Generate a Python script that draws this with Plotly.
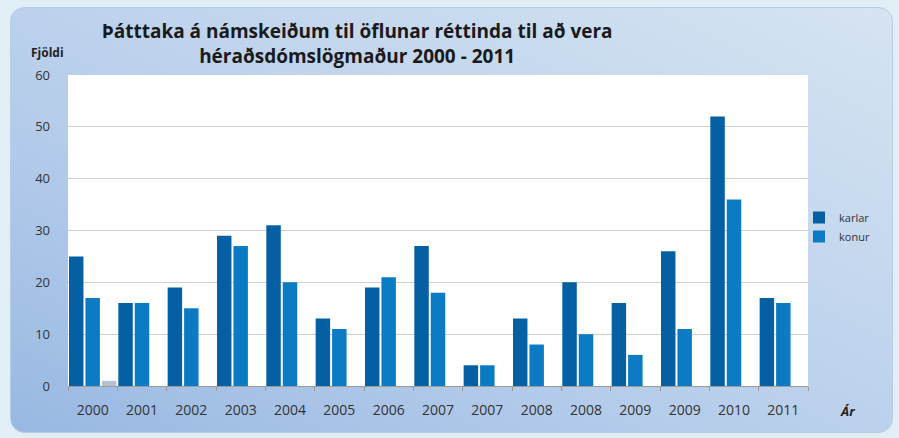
import base64
import plotly.graph_objects as go

# ---- data ----
year_labels = ["2000", "2001", "2002", "2003", "2004", "2005", "2006", "2007",
               "2007", "2008", "2008", "2009", "2009", "2010", "2011"]
karlar = [25, 16, 19, 29, 31, 13, 19, 27, 4, 13, 20, 16, 26, 52, 17]
konur = [17, 16, 15, 27, 20, 11, 21, 18, 4, 8, 10, 6, 11, 36, 16]
third = [1, 0, 0, 0, 0, 0, 0, 0, 0, 0, 0, 0, 0, 0, 0]
y_ticks = [0, 10, 20, 30, 40, 50, 60]

title_text = ("Þátttaka á námskeiðum til öflunar réttinda til að vera<br>"
              "héraðsdómslögmaður 2000 - 2011")

W, H = 899, 438
L, R, T, B = 68, 808, 75, 386  # plot area in pixels
pw, ph = R - L, B - T


def px(x):
    return (x - L) / pw


def py(y):
    return (B - y) / ph


x_pos = list(range(len(year_labels)))
boundaries = [i - 0.5 for i in range(len(year_labels) + 1)]

fig = go.Figure()
fig.add_trace(go.Bar(x=x_pos, y=karlar, name="karlar",
                     marker=dict(color="#0560a3", line=dict(width=0))))
fig.add_trace(go.Bar(x=x_pos, y=konur, name="konur",
                     marker=dict(color="#0b7bc3", line=dict(width=0))))
fig.add_trace(go.Bar(x=x_pos, y=third, name="", showlegend=False,
                     marker=dict(color="#b4c2d0", line=dict(width=0)),
                     hoverinfo="skip"))

# background panel as an svg image with gradient
svg = f'''<svg xmlns="http://www.w3.org/2000/svg" width="{W}" height="{H}" viewBox="0 0 {W} {H}">
<defs>
<linearGradient id="g" x1="0" y1="1" x2="1" y2="0">
<stop offset="0" stop-color="#98b8e2"/>
<stop offset="0.35" stop-color="#b3cbea"/>
<stop offset="1" stop-color="#d6e4f2"/>
</linearGradient>
</defs>
<rect x="0" y="0" width="{W}" height="{H}" fill="#e1eef6"/>
<rect x="10.5" y="7.5" width="882" height="425" rx="14" ry="14" fill="url(#g)" stroke="#b9cde2" stroke-width="1"/>
</svg>'''
src = "data:image/svg+xml;base64," + base64.b64encode(svg.encode()).decode()

fig.update_layout(
    width=W, height=H,
    margin=dict(l=L, r=W - R, t=T, b=H - B, pad=0),
    paper_bgcolor="#e1eef6",
    plot_bgcolor="white",
    barmode="group", bargap=0.0, bargroupgap=0.12,
    images=[dict(source=src, xref="paper", yref="paper", x=px(0), y=py(0),
                 sizex=W / pw, sizey=H / ph, sizing="stretch",
                 xanchor="left", yanchor="top", layer="below")],
    shapes=[dict(type="rect", xref="paper", yref="paper", x0=0, x1=1, y0=0, y1=1,
                 fillcolor="white", line=dict(width=0), layer="below")],
    font=dict(family="Open Sans", color="#333333"),
    title=dict(text=title_text, x=px(362), xanchor="center",
               y=1 - 38 / H, yanchor="middle",
               font=dict(family="Open Sans", size=19, color="#1a1a1a",
                         weight="bold")),
    legend=dict(x=px(799), y=py(203), xanchor="left", yanchor="top",
                bgcolor="rgba(0,0,0,0)", font=dict(size=11, color="#333333"),
                itemwidth=30, tracegroupgap=2),
    showlegend=True,
    xaxis=dict(range=[-0.5, len(year_labels) - 0.5], tickvals=x_pos,
               ticktext=year_labels, showgrid=False, zeroline=False,
               showline=True, linecolor="#9a9a9a", linewidth=1,
               ticks="", tickfont=dict(size=14, color="#333333"),
               ticklabelstandoff=11, fixedrange=True,
               minor=dict(tickvals=boundaries, ticks="outside", ticklen=4,
                          tickcolor="#9a9a9a", showgrid=False)),
    yaxis=dict(range=[0, 60], tickvals=y_ticks, showgrid=True,
               gridcolor="#cfcfcf", gridwidth=1, zeroline=False,
               showline=False, ticks="", tickfont=dict(size=13, color="#333333"),
               ticklabelstandoff=17, fixedrange=True),
    annotations=[
        dict(text="<b>Fjöldi</b>", xref="paper", yref="paper", x=px(47), y=py(52),
             xanchor="center", yanchor="middle", showarrow=False,
             font=dict(size=12, color="#222222")),
        dict(text="<b><i>Ár</i></b>", xref="paper", yref="paper", x=px(847), y=py(411),
             xanchor="center", yanchor="middle", showarrow=False,
             font=dict(size=13, color="#222222")),
    ],
)

fig.write_html("out.html", config={"displayModeBar": False},
               post_script="document.body.style.margin='0px';")
